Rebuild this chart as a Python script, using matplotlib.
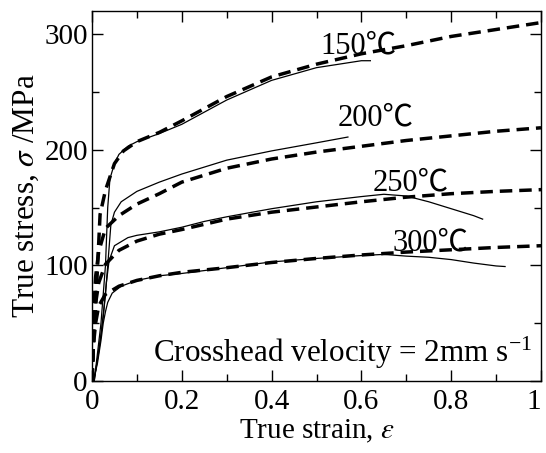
import matplotlib
matplotlib.use("Agg")
import matplotlib.pyplot as plt
from matplotlib.ticker import MultipleLocator, FixedLocator

plt.rcParams['font.family'] = ['Liberation Serif', 'Noto Sans CJK JP']
plt.rcParams['mathtext.fontset'] = 'stix'

# ---- data ----
# experimental curves (thin solid)
exp150_x = [0.005, 0.02, 0.03, 0.035, 0.04, 0.05, 0.06, 0.08, 0.1, 0.15, 0.2, 0.3, 0.4, 0.5, 0.6, 0.62]
exp150_y = [0, 50, 100, 150, 175, 188, 196, 203, 207, 214, 222, 243, 260, 271, 277, 277]

exp200_x = [0.005, 0.02, 0.03, 0.036, 0.042, 0.05, 0.065, 0.1, 0.15, 0.2, 0.3, 0.4, 0.5, 0.57]
exp200_y = [0, 40, 75, 105, 135, 146, 155, 164, 172, 179, 191, 199, 206, 211]

exp250_x = [0.004, 0.015, 0.025, 0.032, 0.038, 0.05, 0.08, 0.1, 0.15, 0.2, 0.25, 0.3, 0.4, 0.5, 0.6, 0.65, 0.7, 0.75, 0.8, 0.85, 0.87]
exp250_y = [0, 25, 55, 85, 104, 117, 124, 126, 129, 133, 138, 142, 149, 155, 159.5, 161.5, 160, 155, 149, 143, 140]

exp300_x = [0.003, 0.012, 0.02, 0.025, 0.03, 0.035, 0.045, 0.065, 0.1, 0.15, 0.2, 0.3, 0.4, 0.5, 0.6, 0.65, 0.7, 0.75, 0.8, 0.85, 0.9, 0.92]
exp300_y = [0, 15, 35, 50, 60, 68, 76, 82, 87, 91, 93, 98, 103, 106, 108.5, 109.5, 108, 107, 105, 102, 99.5, 99]

# model curves (thick dashed)
mod150_x = [0, 0.004, 0.009, 0.018, 0.03, 0.05, 0.07, 0.1, 0.15, 0.2, 0.3, 0.4, 0.5, 0.6, 0.7, 0.8, 0.9, 1.0]
mod150_y = [0, 40, 72, 144, 165, 188, 199, 207, 215, 225, 246, 263, 274, 283, 290, 298, 304, 310]

mod200_x = [0, 0.004, 0.008, 0.015, 0.03, 0.06, 0.1, 0.15, 0.2, 0.3, 0.4, 0.5, 0.6, 0.7, 0.8, 0.9, 1.0]
mod200_y = [0, 60, 90, 112, 132, 143, 153, 162, 172, 184, 192, 198, 203, 208, 212, 216, 219]

mod250_x = [0, 0.004, 0.008, 0.015, 0.03, 0.06, 0.1, 0.15, 0.2, 0.3, 0.4, 0.5, 0.6, 0.7, 0.8, 0.9, 1.0]
mod250_y = [0, 40, 67, 85, 101, 113, 121, 127, 131, 140, 146, 150.5, 155, 159, 162, 164, 165.5]

mod300_x = [0, 0.003, 0.008, 0.015, 0.03, 0.06, 0.1, 0.15, 0.2, 0.3, 0.4, 0.5, 0.6, 0.7, 0.8, 0.9, 1.0]
mod300_y = [0, 30, 50, 65, 75, 82, 87, 91, 94, 98, 102.5, 106, 109, 111.5, 113.5, 115.5, 117]

temp_labels = ['150℃', '200℃', '250℃', '300℃']
temp_label_x = [0.508, 0.546, 0.626, 0.670]
temp_label_y = [283.6, 221, 165, 113]

xtick_vals = [0, 0.2, 0.4, 0.6, 0.8, 1.0]
xtick_labels = ['0', '0.2', '0.4', '0.6', '0.8', '1']
ytick_vals = [0, 100, 200, 300]
ytick_labels = ['0', '100', '200', '300']

# ---- figure ----
fig = plt.figure(figsize=(5.46, 4.53), dpi=100)
ax = fig.add_axes([92/546, 1-381/453, (541-92)/546, (381-11)/453])

for xs, ys in [(exp150_x, exp150_y), (exp200_x, exp200_y), (exp250_x, exp250_y), (exp300_x, exp300_y)]:
    ax.plot(xs, ys, color='black', lw=0.9, solid_joinstyle='round')

for xs, ys in [(mod150_x, mod150_y), (mod200_x, mod200_y), (mod250_x, mod250_y), (mod300_x, mod300_y)]:
    ax.plot(xs, ys, color='black', lw=2.5, dashes=(3.6, 2.0))

for lab, lx, ly in zip(temp_labels, temp_label_x, temp_label_y):
    ax.text(lx, ly, lab, fontsize=22, ha='left', va='baseline')

ax.text(0.136, 16.4, 'Crosshead velocity = 2mm s$^{\\mathregular{-1}}$', fontsize=22.4,
        ha='left', va='baseline')

ax.set_xlim(0, 1)
ax.set_ylim(0, 320)
ax.xaxis.set_major_locator(FixedLocator(xtick_vals))
ax.set_xticklabels(xtick_labels)
ax.yaxis.set_major_locator(FixedLocator(ytick_vals))
ax.set_yticklabels(ytick_labels)
ax.xaxis.set_minor_locator(MultipleLocator(0.1))
ax.yaxis.set_minor_locator(MultipleLocator(50))
ax.tick_params(which='both', direction='in', top=True, right=True, width=1.0)
ax.tick_params(which='major', length=8, labelsize=21)
ax.tick_params(axis='x', which='major', pad=6)
ax.tick_params(axis='y', which='major', pad=3)
ax.tick_params(which='minor', length=5)
for sp in ax.spines.values():
    sp.set_linewidth(1.0)
ax.get_xticklabels()[-1].set_horizontalalignment('right')

ax.set_xlabel('True strain, $\\varepsilon$', fontsize=21, labelpad=2)
ax.set_ylabel('True stress, $\\sigma$ /MPa', fontsize=22.5, labelpad=2)

fig.savefig('out.png', dpi=100)
